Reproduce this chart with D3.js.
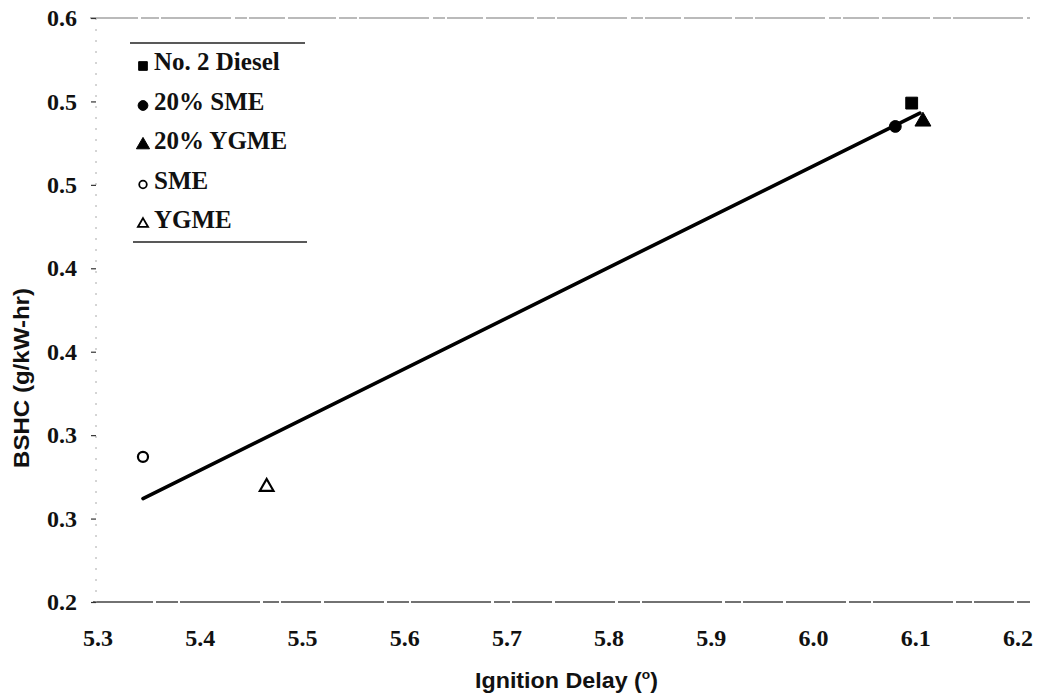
<!DOCTYPE html>
<html>
<head>
<meta charset="utf-8">
<script src="https://cdn.jsdelivr.net/npm/d3@7/dist/d3.min.js"></script>
<style>
  html, body { margin: 0; padding: 0; background: #fff; }
  svg { display: block; }
  .serif { font-family: "Liberation Serif", "Times New Roman", serif; font-weight: bold; fill: #111; }
</style>
</head>
<body>
<svg id="chart" width="1057" height="700"></svg>
<script>
// Fuel series: ignition delay (degrees) vs brake-specific HC (g/kW-hr)
const seriesNames = ["No. 2 Diesel", "20% SME", "20% YGME", "SME", "YGME"];
const seriesShapes = ["square", "circle", "triangle", "circle", "triangle"];
const seriesFilled = [true, true, true, false, false];
const ignitionDelay = [6.096, 6.080, 6.107, 5.344, 5.465];
const bshc = [0.499, 0.485, 0.488, 0.287, 0.269];

// Linear trend line end points
const trendX = [5.344, 6.104];
const trendY = [0.262, 0.493];

// Axis ticks
const xTicks = [5.3, 5.4, 5.5, 5.6, 5.7, 5.8, 5.9, 6.0, 6.1, 6.2];
const xTickLabels = ["5.3", "5.4", "5.5", "5.6", "5.7", "5.8", "5.9", "6.0", "6.1", "6.2"];
const yTicks = [0.2, 0.25, 0.3, 0.35, 0.4, 0.45, 0.5, 0.55];
const yTickLabels = ["0.2", "0.3", "0.3", "0.4", "0.4", "0.5", "0.5", "0.6"];

const SANS = '"Liberation Sans", Arial, sans-serif';

const svg = d3.select("#chart");
const x = d3.scaleLinear().domain([5.3, 6.2]).range([98, 1018]);
const y = d3.scaleLinear().domain([0.2, 0.55]).range([602, 18]);

// Frame: top and bottom rules, faint dotted left axis
svg.append("line")
  .attr("x1", 90).attr("x2", 1030)
  .attr("y1", y(0.55)).attr("y2", y(0.55))
  .attr("stroke", "#777").attr("stroke-width", 1.2)
  .attr("stroke-dasharray", "48 3 18 2 70 4 12 2 36 3");
svg.append("line")
  .attr("x1", 93).attr("x2", 1030)
  .attr("y1", y(0.2)).attr("y2", y(0.2))
  .attr("stroke", "#444").attr("stroke-width", 1.3)
  .attr("stroke-dasharray", "60 3 22 2 80 3 16 2 40 3");
svg.append("line")
  .attr("x1", 96).attr("x2", 96)
  .attr("y1", y(0.55)).attr("y2", y(0.2))
  .attr("stroke", "#aaa").attr("stroke-width", 1)
  .attr("stroke-dasharray", "2 9");

// Y axis tick marks (labels drawn separately below)
const gy = svg.append("g").attr("transform", "translate(96,0)")
  .call(d3.axisLeft(y).tickValues(yTicks).tickSize(5).tickFormat(""));
gy.select(".domain").remove();
gy.selectAll(".tick line").attr("stroke", "#333").attr("stroke-width", 1.2);

// Y tick labels
svg.append("g").selectAll("text").data(yTicks).join("text")
  .attr("class", "serif")
  .attr("x", 77)
  .attr("y", d => y(d))
  .attr("dy", "0.34em")
  .attr("text-anchor", "end")
  .attr("font-size", 24)
  .text((d, i) => yTickLabels[i]);

// X tick labels
svg.append("g").selectAll("text").data(xTicks).join("text")
  .attr("class", "serif")
  .attr("x", d => x(d))
  .attr("y", y(0.2) + 44)
  .attr("text-anchor", "middle")
  .attr("font-size", 24)
  .text((d, i) => xTickLabels[i]);

// Axis titles (condensed bold sans)
const xt = svg.append("text")
  .attr("font-family", SANS).attr("font-weight", "bold").attr("fill", "#111")
  .attr("x", 475).attr("y", 688)
  .attr("font-size", 22)
  .attr("textLength", 183).attr("lengthAdjust", "spacingAndGlyphs");
xt.append("tspan").text("Ignition Delay (");
xt.append("tspan").attr("font-size", 13).attr("dy", -9).text("o");
xt.append("tspan").attr("dy", 9).text(")");

svg.append("text")
  .attr("font-family", SANS).attr("font-weight", "bold").attr("fill", "#111")
  .attr("transform", "translate(29,378) rotate(-90)")
  .attr("text-anchor", "middle").attr("font-size", 22)
  .attr("textLength", 180).attr("lengthAdjust", "spacingAndGlyphs")
  .text("BSHC (g/kW-hr)");

// Marker shapes
function markerPath(shape, size) {
  const sym = shape === "square" ? d3.symbolSquare
            : shape === "triangle" ? d3.symbolTriangle : d3.symbolCircle;
  return d3.symbol().type(sym).size(size)();
}

// Trend line
svg.append("path")
  .attr("d", d3.line().x(d => x(d[0])).y(d => y(d[1]))(trendX.map((v, i) => [v, trendY[i]])))
  .attr("stroke", "#000").attr("stroke-width", 3.6).attr("stroke-linecap", "round")
  .attr("fill", "none");

// Data points
const pts = seriesNames.map((n, i) => ({
  name: n, shape: seriesShapes[i], filled: seriesFilled[i],
  x: ignitionDelay[i], y: bshc[i]
}));
svg.append("g").selectAll("path").data(pts).join("path")
  .attr("transform", d => `translate(${x(d.x)},${y(d.y)})`)
  .attr("d", d => d.filled ? markerPath(d.shape, d.shape === "square" ? 140 : 110) : markerPath(d.shape, 80))
  .attr("fill", d => d.filled ? "#000" : "#fff")
  .attr("stroke", "#000")
  .attr("stroke-width", d => d.filled ? 1 : 2.2);

// Legend
const legend = svg.append("g");
legend.append("line").attr("x1", 130).attr("x2", 305).attr("y1", 43).attr("y2", 43)
  .attr("stroke", "#222").attr("stroke-width", 1.4);
legend.append("line").attr("x1", 133).attr("x2", 307).attr("y1", 242).attr("y2", 242)
  .attr("stroke", "#222").attr("stroke-width", 1.4);
const rows = legend.selectAll("g.row").data(pts).join("g")
  .attr("class", "row")
  .attr("transform", (d, i) => `translate(0,${70 + i * 39.5})`);
rows.append("path")
  .attr("transform", "translate(143,-4)")
  .attr("d", d => d.filled ? markerPath(d.shape, 75) : markerPath(d.shape, 45))
  .attr("fill", d => d.filled ? "#000" : "#fff")
  .attr("stroke", "#000")
  .attr("stroke-width", d => d.filled ? 1 : 1.8);
rows.append("text").attr("class", "serif")
  .attr("x", 154).attr("y", 0)
  .attr("font-size", 25)
  .text(d => d.name);
</script>
</body>
</html>
